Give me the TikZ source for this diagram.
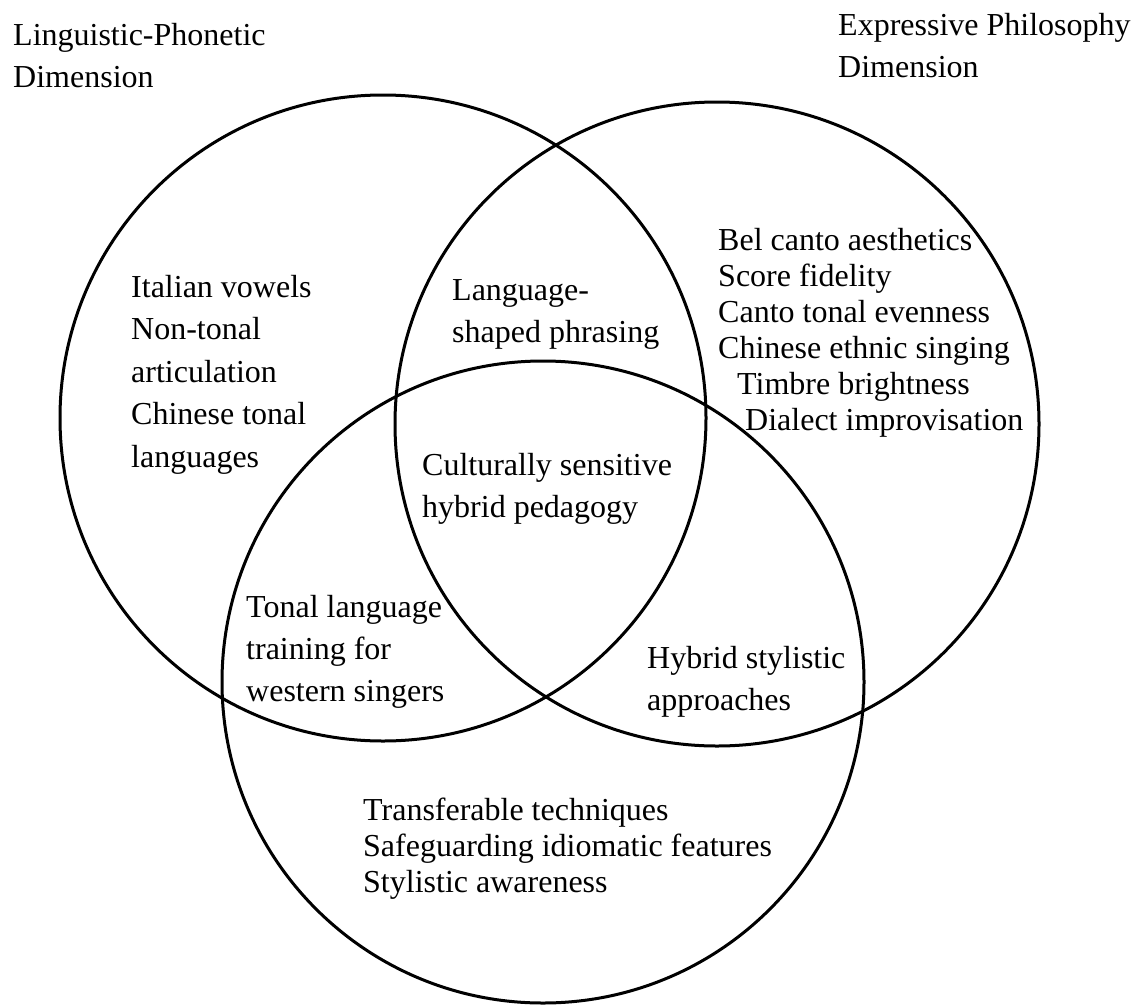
\documentclass[tikz,border=0pt]{standalone}
\usepackage{fontspec}
\setmainfont{Liberation Serif}
\begin{document}
\begin{tikzpicture}[x=1pt,y=-1pt,
  ring/.style={circle,draw=black,line width=3pt,inner sep=0pt},
  lbl/.style={anchor=base west,inner sep=0pt,align=left,font=\fontsize{32}{42}\selectfont},
  tight/.style={lbl,font=\fontsize{32}{36}\selectfont}]
\useasboundingbox[fill=white] (0,0) rectangle (1140,1004);
\node[ring,minimum size=646pt] (L) at (383,418) {};
\node[ring,minimum size=644pt] (R) at (717,424) {};
\node[ring,minimum size=642pt] (B) at (543,682) {};
% base anchor = baseline of last line
\node[lbl] (tl) at (13,87) {Linguistic-Phonetic\\Dimension};
\node[lbl] (tr) at (838,77) {Expressive Philosophy\\Dimension};
\node[lbl,font=\fontsize{32}{42.5}\selectfont] (ling) at (131,467) {Italian vowels\\Non-tonal\\articulation\\Chinese tonal\\languages};
\node[lbl] (lr) at (452,342) {Language-\\shaped phrasing};
\node[tight] (expr) at (718,430) {Bel canto aesthetics\\Score fidelity\\Canto tonal evenness\\Chinese ethnic singing\\\hspace*{19pt}Timbre brightness\\\hspace*{27pt}Dialect improvisation};
\node[lbl] (mid) at (422,517) {Culturally sensitive\\hybrid pedagogy};
\node[lbl] (lb) at (246,701) {Tonal language\\training for\\western singers};
\node[lbl] (rb) at (647,710) {Hybrid stylistic\\approaches};
\node[tight] (bot) at (363,892) {Transferable techniques\\Safeguarding idiomatic features\\Stylistic awareness};
\end{tikzpicture}
\end{document}
